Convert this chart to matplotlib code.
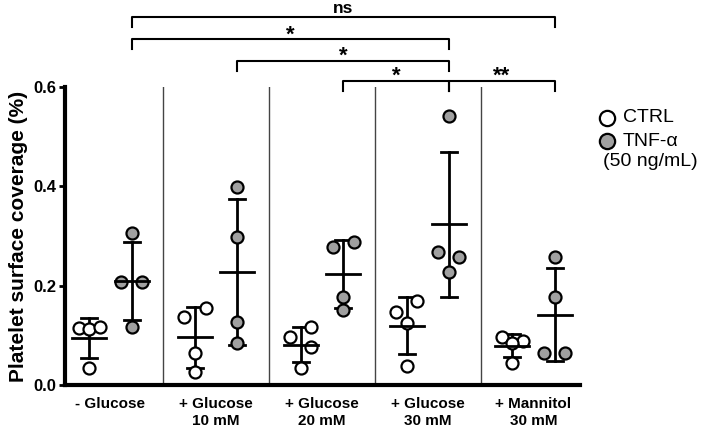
import matplotlib
matplotlib.use("Agg")
import matplotlib.pyplot as plt
from matplotlib.lines import Line2D
import numpy as np

plt.rcParams['font.family'] = ['Liberation Sans', 'DejaVu Sans']

groups = ["- Glucose", "+ Glucose\n10 mM", "+ Glucose\n20 mM", "+ Glucose\n30 mM", "+ Mannitol\n30 mM"]

# platelet surface coverage (%) per donor
ctrl = [
    [0.115, 0.113, 0.117, 0.035],
    [0.136, 0.156, 0.065, 0.026],
    [0.097, 0.117, 0.077, 0.035],
    [0.146, 0.169, 0.124, 0.038],
    [0.097, 0.089, 0.084, 0.045],
]
tnf = [
    [0.307, 0.208, 0.208, 0.116],
    [0.399, 0.297, 0.126, 0.085],
    [0.278, 0.287, 0.178, 0.151],
    [0.541, 0.268, 0.258, 0.228],
    [0.258, 0.178, 0.065, 0.065],
]
# horizontal jitter of the dots
ctrl_jit = [
    [-0.1, 0.0, 0.1, 0.0],
    [-0.1, 0.1, 0.0, 0.0],
    [-0.1, 0.1, 0.1, 0.0],
    [-0.1, 0.1, 0.0, 0.0],
    [-0.1, 0.1, 0.0, 0.0],
]
tnf_jit = [
    [0.0, -0.1, 0.1, 0.0],
    [0.0, 0.0, 0.0, 0.0],
    [-0.1, 0.1, 0.0, 0.0],
    [0.0, -0.1, 0.1, 0.0],
    [0.0, 0.0, -0.1, 0.1],
]

# significance brackets: (group a, group b, level, label)
brackets = [
    (0, 4, 0.740, "ns"),
    (0, 3, 0.696, "*"),
    (1, 3, 0.652, "*"),
    (2, 3, 0.612, "*"),
    (3, 4, 0.612, "**"),
]

fig = plt.figure(figsize=(7.19, 4.32), dpi=100)
ax = fig.add_axes([0.0904, 0.1088, 0.7163, 0.6898])

off = 0.2
for i in range(len(groups)):
    for vals, jit, xo, fc in [(ctrl[i], ctrl_jit[i], -off, "white"), (tnf[i], tnf_jit[i], off, "#a0a0a0")]:
        x = i + xo
        v = np.array(vals)
        m = v.mean()
        s = v.std(ddof=1)
        ax.plot([x, x], [m - s, m + s], color="black", lw=2, zorder=2)
        ax.plot([x - 0.075, x + 0.075], [m - s, m - s], color="black", lw=2, zorder=2)
        ax.plot([x - 0.075, x + 0.075], [m + s, m + s], color="black", lw=2, zorder=2)
        ax.plot([x - 0.16, x + 0.16], [m, m], color="black", lw=2, zorder=4)
        ax.scatter(x + np.array(jit), v, s=75, facecolor=fc, edgecolor="black", linewidth=1.6, zorder=3)

for i in range(len(groups) - 1):
    ax.axvline(i + 0.5, color="#444444", lw=1, zorder=1)

for a, b, lev, lab in brackets:
    xa, xb = a + off, b + off
    ax.plot([xa, xa, xb, xb], [lev - 0.02, lev, lev, lev - 0.02], color="black", lw=1.5, clip_on=False)
    if lab == "ns":
        ax.text((xa + xb) / 2, lev + 0.003, lab, ha="center", va="bottom", fontsize=12.5, fontweight="bold")
    else:
        ax.text((xa + xb) / 2, lev - 0.012, lab, ha="center", va="bottom", fontsize=16, fontweight="bold")

ax.set_xlim(-0.43, 4.44)
ax.set_ylim(0, 0.6)
ax.set_yticks([0.0, 0.2, 0.4, 0.6])
ax.set_yticklabels(["0.0", "0.2", "0.4", "0.6"], fontsize=12, fontweight="bold")
ax.set_xticks(range(len(groups)))
ax.set_xticklabels(groups, fontsize=11, fontweight="bold")
ax.tick_params(axis="x", length=0, pad=9)
ax.tick_params(axis="y", length=4, width=2, pad=2)
ax.set_ylabel("Platelet surface coverage (%)", fontsize=15, fontweight="bold", labelpad=4)
for sp in ["top", "right"]:
    ax.spines[sp].set_visible(False)
ax.spines["left"].set_linewidth(3)
ax.spines["bottom"].set_linewidth(3)

# legend drawn by hand: marker beside first line, second line of TNF label flush under the marker
W, H = 719, 432
for ypx, fc, lab in [(118, "white", "CTRL"), (141, "#a0a0a0", "TNF-α")]:
    fig.add_artist(Line2D([607 / W], [1 - ypx / H], marker="o", ls="", markersize=11, markerfacecolor=fc,
                          markeredgecolor="black", markeredgewidth=1.6))
    fig.text(623 / W, 1 - ypx / H, lab, ha="left", va="center", fontsize=14)
fig.text(603 / W, 1 - 161 / H, "(50 ng/mL)", ha="left", va="center", fontsize=14)

fig.savefig("out.png", dpi=100)
